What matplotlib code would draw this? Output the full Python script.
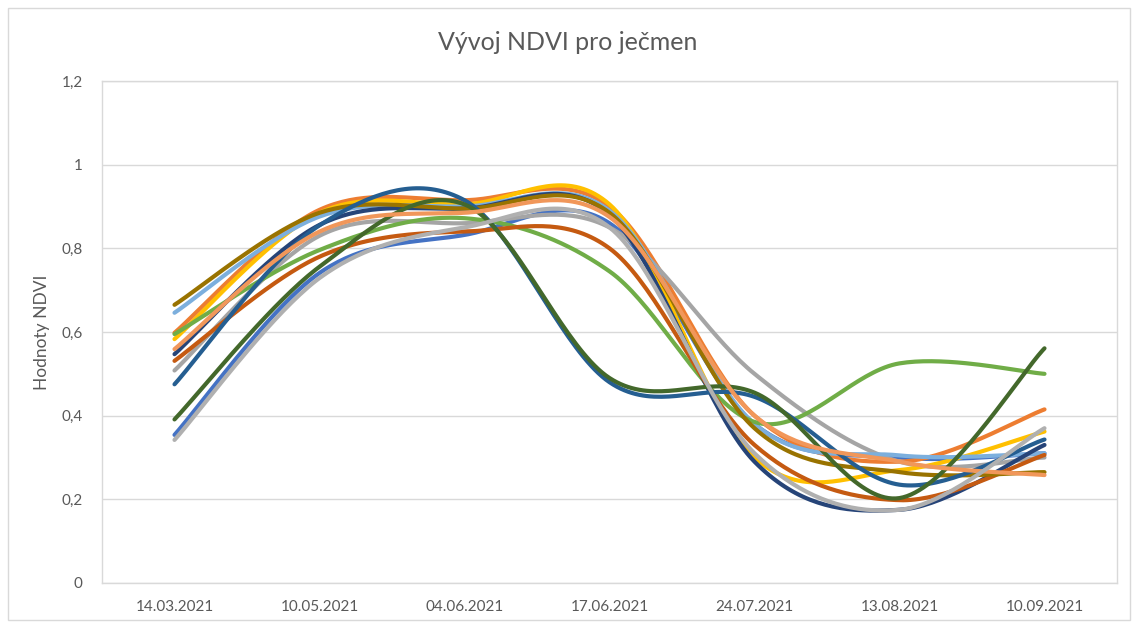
import numpy as np
import matplotlib.pyplot as plt
from matplotlib.patches import Rectangle

plt.rcParams['font.family'] = ['Lato', 'DejaVu Sans']

# data
datumy = ['14.03.2021', '10.05.2021', '04.06.2021', '17.06.2021',
          '24.07.2021', '13.08.2021', '10.09.2021']

modra = [0.354, 0.741, 0.832, 0.86, 0.38, 0.30, 0.31]
oranzova = [0.598, 0.892, 0.915, 0.90, 0.40, 0.29, 0.415]
seda = [0.508, 0.83, 0.86, 0.85, 0.50, 0.29, 0.30]
zluta = [0.583, 0.885, 0.905, 0.905, 0.30, 0.27, 0.362]
svetle_modra = [0.646, 0.876, 0.90, 0.89, 0.38, 0.305, 0.31]
zelena = [0.595, 0.796, 0.872, 0.745, 0.385, 0.525, 0.50]
tmave_modra = [0.547, 0.856, 0.895, 0.88, 0.29, 0.175, 0.33]
tmave_oranzova = [0.531, 0.78, 0.84, 0.80, 0.33, 0.198, 0.306]
olivova = [0.665, 0.885, 0.895, 0.885, 0.37, 0.265, 0.265]
ocelova = [0.475, 0.855, 0.915, 0.48, 0.445, 0.235, 0.343]
tmave_zelena = [0.391, 0.756, 0.905, 0.49, 0.455, 0.203, 0.561]
svetle_oranzova = [0.559, 0.84, 0.885, 0.875, 0.40, 0.29, 0.258]
seda2 = [0.342, 0.729, 0.85, 0.85, 0.31, 0.175, 0.37]

serie = [
    (modra, '#4472C4'),
    (oranzova, '#ED7D31'),
    (seda, '#A5A5A5'),
    (zluta, '#FFC000'),
    (svetle_modra, '#7CAFDD'),
    (zelena, '#70AD47'),
    (tmave_modra, '#264478'),
    (tmave_oranzova, '#C55A11'),
    (olivova, '#997300'),
    (ocelova, '#255E91'),
    (tmave_zelena, '#43682B'),
    (svetle_oranzova, '#F1975A'),
    (seda2, '#B0B0B0'),
]


# vyhlazeni jako v Excelu (Bezierovy krivky pres body)
def vyhlad(x, y, n=40):
    x = np.asarray(x, float)
    y = np.asarray(y, float)
    px = np.concatenate([[x[0]], x, [x[-1]]])
    py = np.concatenate([[y[0]], y, [y[-1]]])
    xs, ys = [], []
    t = np.linspace(0, 1, n)
    for i in range(len(x) - 1):
        p0 = np.array([px[i + 1], py[i + 1]])
        p3 = np.array([px[i + 2], py[i + 2]])
        p1 = p0 + (np.array([px[i + 2], py[i + 2]]) - np.array([px[i], py[i]])) / 6
        p2 = p3 - (np.array([px[i + 3], py[i + 3]]) - np.array([px[i + 1], py[i + 1]])) / 6
        b = ((1 - t) ** 3)[:, None] * p0 + (3 * (1 - t) ** 2 * t)[:, None] * p1 \
            + (3 * (1 - t) * t ** 2)[:, None] * p2 + (t ** 3)[:, None] * p3
        xs.extend(b[:, 0])
        ys.extend(b[:, 1])
    return xs, ys


fig = plt.figure(figsize=(11.36, 6.26), dpi=100)
ax = fig.add_axes([102 / 1136, 1 - 583 / 626, 1015 / 1136, 502 / 626])

x = np.arange(len(datumy))
for hodnoty, barva in serie:
    sx, sy = vyhlad(x, hodnoty)
    ax.plot(sx, sy, color=barva, lw=3.0, solid_capstyle='round', zorder=3)

ax.set_xlim(-0.5, 6.5)
ax.set_ylim(0, 1.2)
ax.set_yticks(np.arange(0, 1.21, 0.2))
ax.set_yticklabels(['0', '0,2', '0,4', '0,6', '0,8', '1', '1,2'])
ax.set_xticks(x)
ax.set_xticklabels(datumy)
ax.tick_params(length=0, colors='#595959', labelsize=11, pad=12)
ax.tick_params(axis='y', pad=14)
ax.grid(axis='y', color='#D9D9D9', lw=1)
ax.set_axisbelow(True)
for s in ax.spines.values():
    s.set_color('#D9D9D9')
    s.set_linewidth(1)

ax.set_ylabel('Hodnoty NDVI', color='#595959', fontsize=12.5, labelpad=8)
fig.text(0.5, 1 - 42 / 626, 'Vývoj NDVI pro ječmen', ha='center', va='center',
         fontsize=18, color='#595959')

# ramecek grafu
fig.patches.append(Rectangle((8 / 1136, 6 / 626), 1122 / 1136, 612 / 626,
                             transform=fig.transFigure, fill=False,
                             edgecolor='#D9D9D9', lw=1))

plt.savefig('out.png', dpi=100)
